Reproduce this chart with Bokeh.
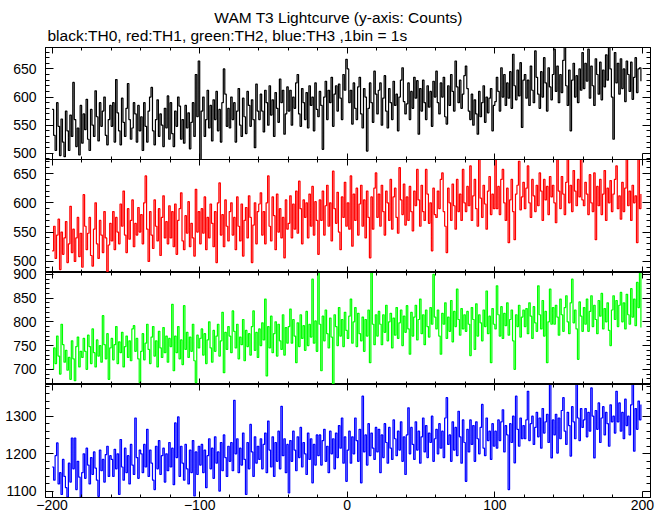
from bokeh.plotting import figure
from bokeh.models import LinearAxis, SingleIntervalTicker, Range1d, Label
from bokeh.layouts import column
from bokeh.embed import file_html
from bokeh.resources import INLINE

title_text = "WAM T3 Lightcurve (y-axis: Counts)"
subtitle_text = "black:TH0, red:TH1, green:TH2, blue:TH3 ,1bin = 1s"
x_tick_labels = {-200: "\u2212200", -100: "\u2212100", 0: "0", 100: "100", 200: "200"}
x_start = -200  # first 1 s bin

th0 = [
    578, 532, 505, 590, 548, 496, 561, 520, 494, 575, 540, 505, 568, 530, 626, 560, 512, 545, 497, 585,
    518, 570, 542, 596, 525, 505, 578, 550, 530, 611, 565, 522, 590, 548, 575, 600, 532, 515, 560, 585,
    548, 590, 520, 631, 572, 540, 515, 598, 555, 530, 580, 624, 560, 525, 545, 590, 570, 520, 585, 540,
    565, 505, 590, 548, 520, 575, 600, 617, 540, 515, 560, 595, 530, 570, 550, 512, 580, 545, 602, 525,
    590, 535, 512, 575, 548, 600, 584, 525, 560, 518, 585, 545, 572, 508, 555, 590, 530, 640, 565, 664,
    489, 575, 600, 530, 560, 612, 545, 585, 522, 595, 560, 610, 540, 578, 520, 590, 650, 605, 548, 580,
    545, 600, 560, 590, 520, 575, 615, 550, 530, 598, 565, 535, 610, 585, 548, 595, 560, 510, 623, 575,
    560, 605, 575, 538, 612, 590, 550, 620, 568, 595, 530, 608, 580, 555, 632, 590, 612, 534, 570, 618,
    575, 612, 550, 600, 580, 625, 640, 570, 548, 615, 590, 560, 608, 545, 620, 585, 600, 540, 625, 578,
    565, 610, 585, 507, 600, 628, 560, 612, 590, 635, 548, 605, 620, 575, 623, 598, 560, 640, 612, 667,
    650, 590, 612, 552, 625, 580, 560, 618, 635, 570, 545, 615, 600, 504, 580, 625, 590, 555, 646, 605,
    570, 612, 625, 550, 598, 638, 575, 545, 615, 590, 560, 628, 585, 605, 540, 600, 630, 652, 592, 570,
    588, 625, 560, 610, 580, 635, 598, 629, 534, 615, 575, 630, 590, 560, 620, 582, 610, 548, 628, 600,
    646, 590, 570, 625, 600, 635, 565, 552, 620, 585, 640, 610, 575, 664, 618, 590, 630, 580, 605, 638,
    655, 615, 575, 560, 605, 550, 595, 570, 534, 610, 565, 590, 620, 555, 600, 572, 598, 615, 540, 585,
    592, 635, 610, 575, 652, 600, 640, 585, 625, 598, 645, 580, 676, 620, 595, 648, 602, 661, 546, 630,
    640, 598, 630, 585, 655, 612, 590, 682, 635, 605, 580, 645, 600, 670, 625, 575, 652, 618, 595, 640,
    685, 610, 655, 590, 640, 608, 665, 688, 620, 585, 648, 540, 630, 660, 600, 638, 590, 650, 612, 679,
    615, 660, 628, 685, 598, 655, 620, 585, 668, 640, 605, 662, 595, 648, 618, 675, 630, 688, 650, 600,
    525, 679, 625, 660, 605, 668, 615, 650, 592, 664, 640, 610, 662, 596, 635, 670, 608, 650, 652, 628,
]

th1 = [
    518, 560, 505, 545, 572, 486, 550, 512, 540, 568, 498, 530, 594, 515, 555, 500, 540, 575, 508, 548,
    490, 614, 560, 520, 548, 575, 510, 492, 555, 600, 530, 505, 570, 545, 515, 585, 540, 483, 528, 565,
    535, 585, 520, 575, 550, 530, 598, 560, 620, 545, 515, 590, 538, 570, 605, 525, 565, 545, 592, 550,
    580, 530, 600, 646, 555, 500, 585, 545, 522, 605, 560, 535, 590, 510, 575, 612, 540, 568, 530, 595,
    540, 585, 525, 598, 512, 570, 590, 617, 535, 520, 578, 548, 602, 525, 565, 540, 509, 623, 550, 585,
    530, 590, 548, 610, 520, 575, 540, 598, 565, 525, 585, 498, 600, 634, 545, 580, 525, 605, 560, 535,
    585, 600, 545, 575, 520, 610, 560, 535, 598, 509, 570, 592, 540, 612, 575, 498, 562, 600, 530, 585,
    598, 617, 545, 585, 530, 600, 646, 560, 535, 610, 578, 520, 615, 550, 590, 540, 575, 506, 605, 555,
    565, 612, 540, 598, 555, 620, 548, 637, 590, 530, 605, 575, 600, 540, 615, 560, 628, 545, 602, 570,
    512, 605, 570, 620, 545, 595, 630, 560, 600, 535, 654, 590, 565, 618, 550, 520, 610, 575, 635, 560,
    600, 555, 646, 526, 615, 570, 625, 545, 598, 630, 560, 605, 540, 620, 575, 506, 610, 555, 625, 651,
    575, 615, 560, 630, 585, 545, 620, 600, 570, 640, 555, 610, 625, 575, 548, 660, 605, 580, 632, 562,
    610, 570, 628, 585, 552, 620, 595, 657, 605, 560, 630, 585, 570, 657, 615, 565, 600, 518, 625, 580,
    575, 620, 590, 640, 651, 585, 560, 515, 625, 600, 570, 632, 595, 555, 640, 585, 615, 570, 657, 600,
    585, 628, 595, 663, 570, 612, 640, 590, 560, 674, 608, 575, 630, 598, 555, 620, 645, 580, 615, 590,
    674, 590, 628, 580, 640, 657, 600, 570, 625, 532, 605, 640, 585, 537, 615, 630, 671, 588, 610, 635,
    590, 625, 663, 600, 575, 640, 612, 585, 630, 595, 651, 620, 570, 640, 605, 628, 580, 645, 610, 630,
    600, 566, 674, 620, 590, 645, 615, 580, 635, 674, 600, 630, 585, 655, 620, 595, 640, 610, 674, 605,
    595, 635, 615, 580, 648, 600, 585, 651, 537, 628, 595, 640, 580, 615, 655, 570, 625, 600, 638, 585,
    615, 640, 663, 590, 612, 572, 635, 585, 625, 674, 595, 620, 570, 630, 600, 612, 532, 674, 590, 615,
]

th2 = [
    700, 745, 712, 770, 728, 690, 795, 752, 715, 740, 698, 725, 679, 760, 722, 676, 748, 768, 705, 738,
    725, 765, 738, 700, 772, 748, 712, 785, 735, 705, 762, 728, 750, 715, 813, 752, 722, 775, 679, 745,
    765, 720, 752, 790, 712, 758, 735, 778, 705, 748, 770, 725, 760, 718, 785, 792, 738, 765, 722, 672,
    738, 775, 720, 755, 795, 742, 712, 768, 790, 728, 760, 705, 780, 745, 725, 788, 735, 770, 715, 765,
    748, 837, 697, 770, 735, 790, 722, 762, 710, 834, 742, 778, 725, 768, 738, 795, 718, 672, 772, 745,
    765, 785, 730, 775, 712, 762, 800, 745, 715, 782, 738, 770, 795, 728, 760, 820, 693, 778, 742, 790,
    770, 735, 823, 780, 745, 795, 722, 768, 752, 805, 718, 782, 748, 775, 730, 790, 823, 740, 778, 725,
    785, 750, 798, 762, 848, 686, 790, 745, 812, 735, 775, 800, 728, 795, 760, 742, 815, 730, 788, 755,
    790, 827, 755, 805, 770, 714, 798, 748, 815, 765, 792, 740, 822, 750, 795, 768, 890, 755, 802, 738,
    904, 795, 697, 812, 760, 825, 775, 745, 808, 768, 669, 815, 790, 750, 830, 770, 805, 748, 820, 782,
    765, 812, 848, 755, 800, 830, 748, 818, 775, 760, 810, 738, 805, 770, 825, 714, 904, 795, 752, 815,
    770, 822, 795, 752, 815, 778, 835, 760, 800, 818, 745, 808, 772, 830, 765, 798, 825, 750, 812, 778,
    834, 785, 732, 820, 770, 810, 835, 762, 805, 848, 775, 815, 752, 825, 790, 768, 830, 795, 900, 810,
    785, 825, 770, 732, 818, 795, 840, 765, 810, 780, 845, 758, 822, 790, 869, 805, 772, 828, 785, 815,
    780, 822, 795, 729, 830, 805, 742, 838, 770, 815, 798, 760, 825, 790, 865, 775, 812, 714, 828, 795,
    785, 876, 815, 770, 832, 765, 818, 792, 840, 772, 805, 825, 760, 700, 815, 790, 835, 768, 810, 825,
    790, 828, 775, 840, 812, 765, 832, 798, 780, 876, 815, 785, 845, 770, 822, 714, 800, 869, 795, 830,
    795, 835, 810, 772, 848, 815, 780, 830, 855, 800, 775, 840, 890, 798, 825, 785, 721, 842, 812, 780,
    830, 795, 848, 780, 822, 855, 790, 835, 805, 775, 845, 812, 860, 785, 828, 800, 840, 782, 750, 825,
    855, 805, 845, 790, 835, 862, 800, 840, 785, 858, 815, 795, 870, 810, 848, 792, 883, 830, 904, 788,
]

th3 = [
    1165, 1130, 1195, 1229, 1120, 1150, 1092, 1185, 1140, 1110, 1085, 1175, 1125, 1242, 1160, 1242, 1105, 1180, 1138, 1085,
    1150, 1200, 1135, 1215, 1170, 1120, 1190, 1145, 1205, 1162, 1130, 1087, 1210, 1155, 1185, 1125, 1198, 1220, 1140, 1195,
    1185, 1140, 1212, 1160, 1200, 1092, 1238, 1165, 1130, 1215, 1150, 1195, 1120, 1225, 1170, 1145, 1295, 1190, 1135, 1210,
    1200, 1150, 1225, 1165, 1265, 1140, 1210, 1175, 1130, 1105, 1220, 1160, 1235, 1145, 1195, 1215, 1125, 1200, 1155, 1230,
    1165, 1215, 1118, 1282, 1190, 1298, 1140, 1220, 1175, 1130, 1225, 1160, 1120, 1210, 1150, 1235, 1088, 1205, 1145, 1220,
    1170, 1225, 1150, 1210, 1110, 1195, 1240, 1160, 1215, 1135, 1245, 1175, 1205, 1101, 1230, 1155, 1250, 1190, 1140, 1220,
    1180, 1230, 1155, 1342, 1200, 1240, 1150, 1215, 1170, 1255, 1185, 1092, 1230, 1160, 1278, 1205, 1140, 1245, 1175, 1220,
    1185, 1240, 1160, 1225, 1255, 1150, 1287, 1210, 1165, 1245, 1140, 1230, 1180, 1260, 1160, 1326, 1195, 1240, 1150, 1225,
    1096, 1235, 1180, 1260, 1210, 1155, 1245, 1190, 1270, 1165, 1230, 1200, 1145, 1255, 1185, 1240, 1123, 1225, 1170, 1250,
    1195, 1250, 1170, 1235, 1265, 1180, 1220, 1150, 1260, 1200, 1240, 1160, 1255, 1190, 1275, 1215, 1295, 1175, 1245, 1127,
    1210, 1260, 1175, 1245, 1200, 1295, 1235, 1180, 1265, 1123, 1353, 1205, 1250, 1170, 1280, 1195, 1255, 1215, 1185, 1270,
    1205, 1265, 1150, 1250, 1190, 1280, 1230, 1175, 1270, 1215, 1185, 1290, 1240, 1195, 1260, 1210, 1285, 1180, 1245, 1145,
    1250, 1322, 1200, 1270, 1225, 1185, 1285, 1210, 1260, 1175, 1245, 1295, 1205, 1275, 1190, 1255, 1230, 1300, 1180, 1240,
    1265, 1200, 1280, 1215, 1260, 1190, 1295, 1349, 1225, 1250, 1180, 1285, 1210, 1270, 1195, 1313, 1245, 1175, 1290, 1230,
    1127, 1265, 1205, 1290, 1225, 1275, 1180, 1285, 1240, 1200, 1270, 1331, 1215, 1195, 1295, 1235, 1260, 1185, 1280, 1220,
    1260, 1215, 1290, 1235, 1285, 1317, 1205, 1275, 1250, 1105, 1280, 1230, 1300, 1176, 1353, 1265, 1220, 1295, 1240, 1275,
    1240, 1290, 1366, 1235, 1280, 1300, 1225, 1270, 1310, 1245, 1295, 1215, 1320, 1255, 1285, 1305, 1230, 1384, 1189, 1290,
    1250, 1305, 1202, 1295, 1240, 1315, 1349, 1260, 1225, 1310, 1275, 1194, 1325, 1285, 1240, 1384, 1295, 1235, 1320, 1270,
    1290, 1320, 1245, 1310, 1260, 1375, 1300, 1189, 1315, 1265, 1335, 1230, 1295, 1325, 1250, 1310, 1280, 1220, 1330, 1285,
    1300, 1255, 1366, 1285, 1335, 1260, 1310, 1240, 1345, 1275, 1300, 1250, 1330, 1384, 1207, 1320, 1265, 1340, 1290, 1331,
]

FONT = "Liberation Sans"
W = 669
LEFT = 45
RIGHT = 19
HEADER = 47

# extra_bottom: room under the frame for a tick label that sits on the edge;
# lift: how far the panel slides up over the previous panel's spare border
panels = [
    dict(y=th0, color="#000000", yr=(489, 688), yint=50, frame=112, top=0, bottom=4, lift=0),
    dict(y=th1, color="#ff0000", yr=(481, 674), yint=50, frame=113, top=0, bottom=0, lift=4),
    dict(y=th2, color="#00ff00", yr=(668, 904), yint=50, frame=112, top=10, bottom=0, lift=10),
    dict(y=th3, color="#0000ff", yr=(1084, 1384), yint=100, frame=113, top=0, bottom=18, lift=0),
]


def make_axis(interval, major_in, minor_in, show_labels, overrides=None):
    ax = LinearAxis(
        ticker=SingleIntervalTicker(interval=interval, num_minor_ticks=5),
        major_tick_in=major_in, major_tick_out=0,
        minor_tick_in=minor_in, minor_tick_out=0,
        major_tick_line_color="black", minor_tick_line_color="black",
        axis_line_color="black",
    )
    if show_labels:
        ax.major_label_text_font = FONT
        ax.major_label_text_font_size = "14px"
        ax.major_label_text_color = "black"
        if overrides:
            ax.major_label_overrides = overrides
    else:
        ax.major_label_text_color = None
        ax.major_label_text_font_size = "0px"
        ax.major_label_standoff = 0
    return ax


# header with the two title lines (data units = page pixels)
header = figure(
    width=W, height=HEADER, x_range=Range1d(LEFT, W - RIGHT), y_range=Range1d(0, HEADER),
    output_backend="svg", toolbar_location=None,
    x_axis_location=None, y_axis_location=None,
    min_border_left=LEFT, min_border_right=RIGHT, min_border_top=0, min_border_bottom=0,
)
header.grid.visible = False
header.outline_line_color = None
header.add_layout(Label(x=338, y=HEADER - 17, text=title_text, text_align="center",
                        text_baseline="middle", text_font=FONT, text_font_size="15.5px",
                        text_color="black"))
header.add_layout(Label(x=47, y=HEADER - 35, text=subtitle_text, text_align="left",
                        text_baseline="middle", text_font=FONT, text_font_size="15.5px",
                        text_color="black"))

figs = [header]
for k, pn in enumerate(panels):
    h = pn["frame"] + pn["top"] + pn["bottom"]
    p = figure(
        width=W, height=h,
        x_range=Range1d(-204.5, 205.5), y_range=Range1d(*pn["yr"]),
        output_backend="svg", toolbar_location=None,
        x_axis_location=None, y_axis_location=None,
        min_border_left=LEFT, min_border_right=RIGHT,
        min_border_top=pn["top"], min_border_bottom=pn["bottom"],
    )
    p.grid.visible = False
    p.outline_line_color = "black"
    p.outline_line_width = 1
    p.background_fill_color = "white"
    if pn["lift"]:
        p.border_fill_alpha = 0
        p.margin = (-pn["lift"], 0, 0, 0)
    else:
        p.border_fill_color = "white"

    left = make_axis(pn["yint"], 8, 4, True)
    left.major_label_standoff = 9
    p.add_layout(left, "left")
    p.add_layout(make_axis(pn["yint"], 8, 4, False), "right")
    p.add_layout(make_axis(100, 6, 3, False), "above")
    last = k == len(panels) - 1
    bottom = make_axis(100, 6, 3, last, x_tick_labels if last else None)
    if last:
        bottom.major_label_standoff = 2
    p.add_layout(bottom, "below")

    xs = list(range(x_start, x_start + len(pn["y"])))
    p.step(x=xs, y=pn["y"], mode="after", line_color=pn["color"], line_width=1.2)
    figs.append(p)

layout = column(*figs, spacing=0)
open("out.html", "w").write(file_html(layout, INLINE))
